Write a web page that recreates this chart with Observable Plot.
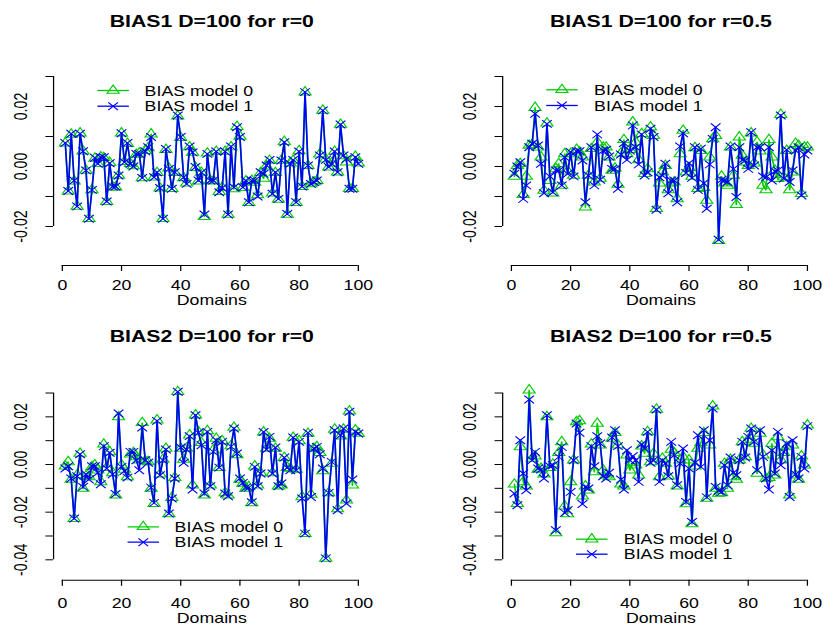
<!DOCTYPE html>
<html><head><meta charset="utf-8">
<script src="https://cdn.jsdelivr.net/npm/d3@7"></script>
<script src="https://cdn.jsdelivr.net/npm/@observablehq/plot@0.6"></script>
<style>
html,body{margin:0;padding:0;background:#fff;overflow:hidden;}
#fig{position:relative;width:659.2px;height:626px;transform:scaleX(1.25);transform-origin:0 0;}
.panel{position:absolute;}
</style></head><body><div id="fig"></div>
<script>
// ---------- data ----------
const domains = Array.from({length: 100}, (_, i) => i + 1);
const xTicks = [0, 20, 40, 60, 80, 100];
const xTickLabels = ["0", "20", "40", "60", "80", "100"];
const yTicksTop = [-0.02, -0.01, 0, 0.01, 0.02, 0.03];
const yLabelTicksTop = [-0.02, 0, 0.02];
const yLabelsTop = ["-0.02", "0.00", "0.02"];
const yTicksBottom = [-0.04, -0.03, -0.02, -0.01, 0, 0.01, 0.02, 0.03];
const yLabelTicksBottom = [-0.04, -0.02, 0, 0.02];
const yLabelsBottom = ["-0.04", "-0.02", "0.00", "0.02"];
const titles = ["BIAS1 D=100 for r=0", "BIAS1 D=100 for r=0.5", "BIAS2 D=100 for r=0", "BIAS2 D=100 for r=0.5"];
const seriesNames = ["BIAS model 0", "BIAS model 1"];
const xLabel = "Domains";
const colors = ["#00cc00", "#0000ff"];

const bias1_r0_m1 = [0.0078,-0.0082,0.0109,-0.0047,-0.0133,0.0109,0.0051,-0.0013,-0.0174,-0.0078,
0.0029,0.0009,0.0031,0.0031,-0.0117,0.0011,-0.0067,-0.0067,-0.0030,0.0111,
0.0014,0.0078,0.0009,0.0000,0.0042,0.0042,-0.0038,0.0051,0.0064,0.0098,
-0.0036,-0.0019,-0.0072,-0.0174,0.0058,-0.0008,-0.0074,-0.0019,0.0170,0.0098,
-0.0036,-0.0058,0.0067,0.0047,-0.0002,-0.0047,-0.0020,-0.0160,0.0042,-0.0047,
-0.0047,0.0050,-0.0086,-0.0072,0.0050,-0.0160,0.0067,-0.0069,0.0131,0.0098,
-0.0069,-0.0047,-0.0119,-0.0047,-0.0047,-0.0100,-0.0019,-0.0024,0.0003,0.0022,
-0.0091,-0.0019,-0.0108,0.0020,0.0081,-0.0158,0.0009,0.0022,-0.0119,0.0050,
-0.0067,0.0248,0.0003,-0.0058,-0.0052,-0.0047,0.0037,0.0187,0.0022,-0.0002,
0.0009,0.0050,-0.0019,0.0140,0.0037,0.0025,-0.0074,-0.0074,0.0031,0.0009];
const bias1_r0_m0 = [0.0078,-0.0082,0.0107,-0.0049,-0.0133,0.0111,0.0051,-0.0013,-0.0174,-0.0078,
0.0027,0.0009,0.0031,0.0029,-0.0117,0.0013,-0.0069,-0.0069,-0.0030,0.0111,
0.0016,0.0076,0.0009,0.0002,0.0040,0.0044,-0.0038,0.0053,0.0062,0.0108,
-0.0036,-0.0021,-0.0072,-0.0174,0.0056,-0.0006,-0.0074,-0.0021,0.0168,0.0096,
-0.0038,-0.0056,0.0065,0.0047,-0.0004,-0.0049,-0.0020,-0.0167,0.0044,-0.0047,
-0.0049,0.0050,-0.0084,-0.0070,0.0050,-0.0160,0.0065,-0.0075,0.0133,0.0100,
-0.0071,-0.0049,-0.0121,-0.0047,-0.0053,-0.0095,-0.0021,-0.0040,0.0001,0.0020,
-0.0089,-0.0021,-0.0110,0.0020,0.0083,-0.0160,0.0011,0.0020,-0.0121,0.0052,
-0.0067,0.0248,0.0003,-0.0058,-0.0052,-0.0047,0.0041,0.0187,0.0024,-0.0002,
0.0011,0.0050,-0.0019,0.0140,0.0035,0.0014,-0.0074,-0.0074,0.0033,0.0011];

const bias1_r05_m1 = [-0.0024,0.0000,0.0014,-0.0108,-0.0063,0.0064,0.0076,0.0176,0.0070,0.0009,
-0.0089,0.0142,-0.0033,-0.0086,-0.0013,-0.0013,-0.0063,0.0031,-0.0024,0.0048,
-0.0033,0.0051,0.0051,0.0020,-0.0119,-0.0030,0.0064,-0.0063,0.0107,-0.0044,
0.0053,0.0056,0.0033,-0.0008,-0.0008,-0.0074,0.0040,0.0078,0.0022,0.0053,
0.0137,0.0064,0.0007,0.0107,-0.0030,-0.0019,0.0126,0.0098,-0.0144,-0.0036,
-0.0030,0.0009,-0.0089,-0.0047,-0.0047,-0.0119,0.0067,0.0111,-0.0022,0.0011,
-0.0038,0.0064,-0.0078,0.0059,-0.0056,-0.0141,0.0007,0.0092,0.0131,-0.0244,
-0.0044,-0.0047,-0.0052,0.0067,-0.0008,-0.0102,0.0064,0.0022,0.0020,-0.0008,
0.0114,0.0003,0.0064,0.0064,-0.0033,-0.0036,0.0064,-0.0047,-0.0016,-0.0013,
0.0170,-0.0040,0.0056,-0.0052,-0.0013,0.0053,0.0064,-0.0097,0.0040,0.0053];
const bias1_r05_m0 = [-0.0033,0.0003,0.0009,-0.0094,-0.0033,0.0070,0.0073,0.0196,0.0064,0.0031,
-0.0080,0.0144,-0.0047,-0.0089,-0.0008,0.0009,-0.0063,0.0042,-0.0016,0.0042,
-0.0030,0.0056,0.0048,0.0031,-0.0136,-0.0030,0.0059,-0.0052,0.0081,-0.0040,
0.0064,0.0064,0.0031,-0.0013,-0.0006,-0.0060,0.0044,0.0089,0.0042,0.0056,
0.0148,0.0081,0.0022,0.0109,-0.0024,-0.0008,0.0131,0.0103,-0.0141,-0.0056,
-0.0019,0.0003,-0.0078,-0.0056,-0.0052,-0.0108,0.0042,0.0120,-0.0019,-0.0004,
-0.0033,0.0062,-0.0074,0.0053,-0.0071,-0.0113,0.0031,0.0092,0.0103,-0.0247,
-0.0033,-0.0056,-0.0063,0.0064,-0.0030,-0.0127,0.0098,0.0037,0.0014,0.0003,
0.0111,0.0011,0.0081,0.0051,-0.0063,-0.0078,0.0089,0.0031,-0.0013,-0.0041,
0.0173,-0.0036,0.0053,-0.0078,-0.0019,0.0076,0.0070,-0.0091,0.0064,0.0064];

const bias2_r0_m1 = [-0.0017,-0.0007,-0.0059,-0.0227,-0.0049,0.0043,-0.0094,-0.0041,-0.0063,-0.0007,
-0.0007,-0.0035,-0.0083,0.0077,-0.0017,0.0049,-0.0041,-0.0124,0.0214,-0.0010,
-0.0027,-0.0055,0.0053,0.0053,0.0018,-0.0024,0.0155,0.0018,0.0007,-0.0097,
-0.0161,0.0183,-0.0045,0.0018,0.0063,-0.0206,-0.0143,-0.0059,0.0305,0.0071,
0.0007,0.0063,0.0119,-0.0105,0.0207,0.0133,0.0081,-0.0122,0.0137,-0.0091,
0.0053,0.0102,-0.0013,0.0095,-0.0122,-0.0133,0.0075,0.0151,0.0046,-0.0059,
-0.0077,-0.0097,-0.0097,-0.0158,-0.0010,-0.0091,-0.0038,0.0136,0.0063,0.0116,
-0.0038,0.0071,-0.0091,-0.0080,0.0029,-0.0013,-0.0024,0.0113,-0.0024,0.0095,
-0.0143,-0.0290,0.0133,-0.0136,0.0067,0.0074,0.0043,-0.0017,-0.0394,-0.0119,
0.0011,0.0144,-0.0192,0.0123,0.0151,-0.0164,0.0221,-0.0063,0.0137,0.0130];
const bias2_r0_m0 = [-0.0007,0.0011,-0.0063,-0.0227,-0.0045,0.0046,-0.0101,-0.0049,-0.0052,-0.0010,
-0.0003,-0.0024,-0.0073,0.0085,-0.0013,0.0053,-0.0035,-0.0129,0.0200,-0.0003,
-0.0021,-0.0052,0.0043,0.0049,0.0032,0.0018,0.0175,0.0015,0.0011,-0.0101,
-0.0164,0.0186,-0.0041,0.0021,0.0067,-0.0208,-0.0139,-0.0055,0.0305,0.0067,
0.0021,0.0067,0.0123,-0.0087,0.0207,0.0137,0.0091,-0.0129,0.0141,-0.0087,
0.0060,0.0109,-0.0013,0.0099,-0.0119,-0.0129,0.0078,0.0155,0.0040,-0.0063,
-0.0080,-0.0101,-0.0094,-0.0161,-0.0007,-0.0087,-0.0035,0.0136,0.0067,0.0109,
-0.0035,0.0067,-0.0091,-0.0087,0.0029,-0.0013,-0.0017,0.0113,-0.0021,0.0099,
-0.0136,-0.0290,0.0130,-0.0126,0.0067,0.0074,0.0049,-0.0027,-0.0394,-0.0119,
0.0004,0.0147,-0.0187,0.0119,0.0147,-0.0150,0.0224,-0.0087,0.0144,0.0130];

const bias2_r05_m1 = [-0.0122,-0.0171,0.0102,-0.0038,-0.0108,0.0273,0.0018,0.0053,-0.0017,-0.0021,
-0.0059,0.0207,-0.0007,-0.0003,-0.0276,0.0032,0.0074,-0.0203,-0.0192,-0.0115,
0.0018,0.0172,0.0133,-0.0166,-0.0094,-0.0101,0.0077,-0.0007,0.0119,0.0088,
-0.0049,-0.0059,-0.0035,0.0113,0.0144,0.0077,-0.0063,-0.0105,0.0060,0.0018,
0.0035,0.0018,-0.0073,0.0085,0.0067,0.0137,0.0007,0.0018,0.0231,-0.0073,
0.0018,0.0004,-0.0049,0.0095,0.0039,-0.0087,0.0004,0.0067,-0.0157,-0.0017,
-0.0241,0.0007,0.0123,-0.0010,0.0144,-0.0138,0.0102,0.0235,-0.0094,-0.0110,
-0.0115,-0.0003,-0.0087,0.0029,-0.0035,-0.0045,0.0018,0.0095,0.0029,0.0116,
0.0151,0.0095,-0.0024,0.0144,0.0032,-0.0059,-0.0105,0.0060,-0.0038,0.0137,
-0.0003,0.0053,0.0088,-0.0136,0.0102,-0.0041,-0.0059,0.0032,-0.0017,0.0161];
const bias2_r05_m0 = [-0.0083,-0.0164,0.0074,-0.0073,-0.0091,0.0312,0.0025,0.0035,-0.0021,-0.0017,
-0.0041,0.0200,-0.0013,0.0001,-0.0287,0.0049,0.0095,-0.0175,-0.0208,-0.0073,
0.0018,0.0179,0.0183,-0.0133,-0.0091,-0.0108,0.0085,-0.0031,0.0172,0.0081,
-0.0024,-0.0045,-0.0052,0.0109,0.0133,0.0081,-0.0083,-0.0091,0.0039,-0.0024,
0.0007,-0.0003,-0.0045,0.0077,0.0046,0.0137,0.0011,0.0046,0.0231,-0.0052,
0.0025,0.0004,-0.0049,0.0063,0.0049,-0.0091,0.0018,0.0032,-0.0166,0.0018,
-0.0250,-0.0007,0.0067,0.0091,0.0133,-0.0143,0.0081,0.0245,-0.0101,-0.0122,
-0.0119,0.0004,-0.0101,0.0021,-0.0052,-0.0063,0.0018,0.0095,0.0032,0.0105,
0.0151,0.0088,-0.0038,0.0130,0.0039,-0.0059,-0.0055,0.0088,-0.0045,0.0116,
0.0018,0.0049,0.0074,-0.0129,0.0081,-0.0045,-0.0063,0.0035,-0.0003,0.0165];

// ---------- layout (logical px; the whole figure is stretched horizontally by 1.25) ----------
const FONT = "'Liberation Sans', Arial, Helvetica, sans-serif";
const AX = 14.2, TITLE = 17;
const PW = 329.6;
const panels = [
  {title: titles[0], m0: bias1_r0_m0, m1: bias1_r0_m1, left: 0, top: 0, ml: 42.35, mr: 34.06, mt: 52.9, mb: 48,
   yDomain: [-0.033, 0.0377], yTicks: yTicksTop, yLab: yLabelTicksTop, yLabText: yLabelsTop,
   titleDy: -26.2, xPad: 8.5, domDy: 40, legX: 47.65, legTX: 72.85, legY: [37.1, 52.8]},
  {title: titles[1], m0: bias1_r05_m0, m1: bias1_r05_m1, left: PW, top: 0, ml: 71.63, mr: 4.78, mt: 52.9, mb: 48,
   yDomain: [-0.033, 0.0377], yTicks: yTicksTop, yLab: yLabelTicksTop, yLabText: yLabelsTop,
   titleDy: -26.2, xPad: 8.5, domDy: 40, legX: 47.45, legTX: 73.17, legY: [36.4, 52.1]},
  {title: titles[2], m0: bias2_r0_m0, m1: bias2_r0_m1, left: 0, top: 313, ml: 42.35, mr: 34.06, mt: 52.9, mb: 46.3,
   yDomain: [-0.04855, 0.04117], yTicks: yTicksBottom, yLab: yLabelTicksBottom, yLabText: yLabelsBottom,
   titleDy: -24.2, xPad: 11.5, domDy: 42.6, legX: 71.77, legTX: 96.85, legY: [160.4, 175.8]},
  {title: titles[3], m0: bias2_r05_m0, m1: bias2_r05_m1, left: PW, top: 313, ml: 71.63, mr: 4.78, mt: 52.9, mb: 46.3,
   yDomain: [-0.04855, 0.04117], yTicks: yTicksBottom, yLab: yLabelTicksBottom, yLabText: yLabelsBottom,
   titleDy: -24.2, xPad: 11.5, domDy: 42.6, legX: 71.29, legTX: 96.93, legY: [172.8, 187.8]}
];

const lookup = (vals, labels) => d => labels[vals.indexOf(d)];
const legendLine = {draw(ctx) { ctx.moveTo(-12.6, 0); ctx.lineTo(12.6, 0); }};
const symbols = ["triangle", "times"];

function makePanel(p) {
  const series = [p.m0, p.m1].map((vals, k) => domains.map((d, i) => ({domain: d, bias: vals[i], series: seriesNames[k]})));
  const xDom = [-2.96, 103.96];
  const marks = [
    Plot.ruleY([p.yDomain[0]], {x1: xTicks[0], x2: xTicks[xTicks.length - 1], stroke: "#000", strokeWidth: 1}),
    Plot.ruleX([xDom[0]], {y1: p.yTicks[0], y2: p.yTicks[p.yTicks.length - 1], stroke: "#000", strokeWidth: 1}),
    Plot.axisX(xTicks, {tickSize: 6, tickPadding: p.xPad, tickFormat: lookup(xTicks, xTickLabels), label: null, fontSize: AX, stroke: "#000", fill: "#000"}),
    Plot.axisY(p.yTicks, {tickSize: 6, fill: "none", label: null, stroke: "#000"}),
    Plot.axisY(p.yLab, {tickSize: 0, tickRotate: -90, tickPadding: 21, tickFormat: lookup(p.yLab, p.yLabText), label: null, fontSize: AX, fill: "#000"}),
    Plot.text([p.title], {text: d => d, frameAnchor: "top", dy: p.titleDy, lineAnchor: "bottom", fontWeight: "bold", fontSize: TITLE, fill: "#000"}),
    Plot.text([xLabel], {text: d => d, frameAnchor: "bottom", dy: p.domDy, lineAnchor: "bottom", fontSize: AX, fill: "#000"})
  ];
  series.forEach((data, k) => {
    marks.push(Plot.line(data, {x: "domain", y: "bias", stroke: colors[k], strokeWidth: 1.3}));
    marks.push(Plot.dot(data, {x: "domain", y: "bias", symbol: symbols[k], r: 3.6, stroke: colors[k], fill: "none", strokeWidth: 1}));
  });
  seriesNames.forEach((name, k) => {
    marks.push(Plot.dot([name], {frameAnchor: "top-left", dx: p.legX, dy: p.legY[k], symbol: legendLine, r: 3, stroke: colors[k], fill: "none", strokeWidth: 1.3}));
    marks.push(Plot.dot([name], {frameAnchor: "top-left", dx: p.legX, dy: p.legY[k], symbol: symbols[k], r: 3.6, stroke: colors[k], fill: "none", strokeWidth: 1}));
    marks.push(Plot.text([name], {text: d => d, frameAnchor: "top-left", dx: p.legTX, dy: p.legY[k] + 0.5, textAnchor: "start", lineAnchor: "middle", fontSize: AX, fill: "#000"}));
  });
  const svg = Plot.plot({
    width: PW, height: 313,
    marginLeft: p.ml, marginRight: p.mr, marginTop: p.mt, marginBottom: p.mb,
    x: {domain: xDom}, y: {domain: p.yDomain},
    style: {fontFamily: FONT, fontSize: AX + "px", background: "transparent", overflow: "visible", color: "#000"},
    marks
  });
  const div = document.createElement("div");
  div.className = "panel";
  div.style.left = p.left + "px";
  div.style.top = p.top + "px";
  div.appendChild(svg);
  return div;
}

const fig = document.getElementById("fig");
panels.forEach(p => fig.appendChild(makePanel(p)));
</script>
</body></html>
